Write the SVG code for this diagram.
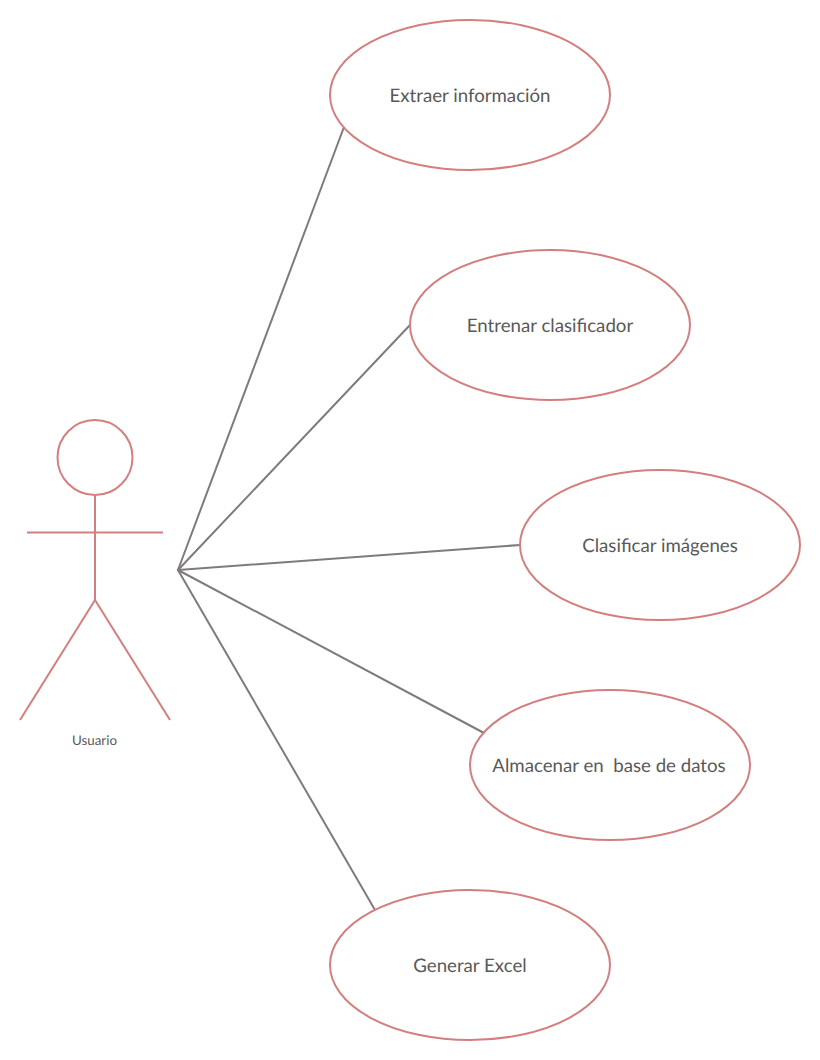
<svg xmlns="http://www.w3.org/2000/svg" width="820" height="1060" viewBox="0 0 820 1060">
<style>
.s{fill:none;stroke:#d47f7f;stroke-width:2;stroke-linecap:butt}
.e{fill:#fff;stroke:#d47f7f;stroke-width:2}
.c{fill:none;stroke:#7f7b7b;stroke-width:2;stroke-linecap:round}
text{font-family:Lato,"Liberation Sans",sans-serif;font-size:18.67px;fill:#595959;text-anchor:middle;text-rendering:geometricPrecision}
</style>
<rect width="820" height="1060" fill="#fff"/>
<g id="connectors">
<path class="c" d="M178 570L344 127"/>
<path class="c" d="M178 570L410 325"/>
<path class="c" d="M178 570L520 545"/>
<path class="c" d="M178 570L484 733"/>
<path class="c" d="M178 570L375 910"/>
</g>
<g id="actor">
<circle class="s" cx="95" cy="457.500" r="37.500"/>
<path class="s" d="M95 495V600M27 532.500H163M95 600L20 720M95 600L170 720"/>
<text x="94.500" y="745" style="font-size:13.33px">Usuario</text>
</g>
<g id="n1"><ellipse class="e" cx="470" cy="95" rx="140" ry="75"/><text x="470" y="102">Extraer información</text></g>
<g id="n2"><ellipse class="e" cx="550" cy="325" rx="140" ry="75"/><text x="550" y="332">Entrenar clasificador</text></g>
<g id="n3"><ellipse class="e" cx="660" cy="545" rx="140" ry="75"/><text x="660" y="552">Clasificar imágenes</text></g>
<g id="n4"><ellipse class="e" cx="610" cy="765" rx="140" ry="75"/><text x="609" y="772" xml:space="preserve">Almacenar en  base de datos</text></g>
<g id="n5"><ellipse class="e" cx="470" cy="965" rx="140" ry="75"/><text x="470" y="972">Generar Excel</text></g>
</svg>
